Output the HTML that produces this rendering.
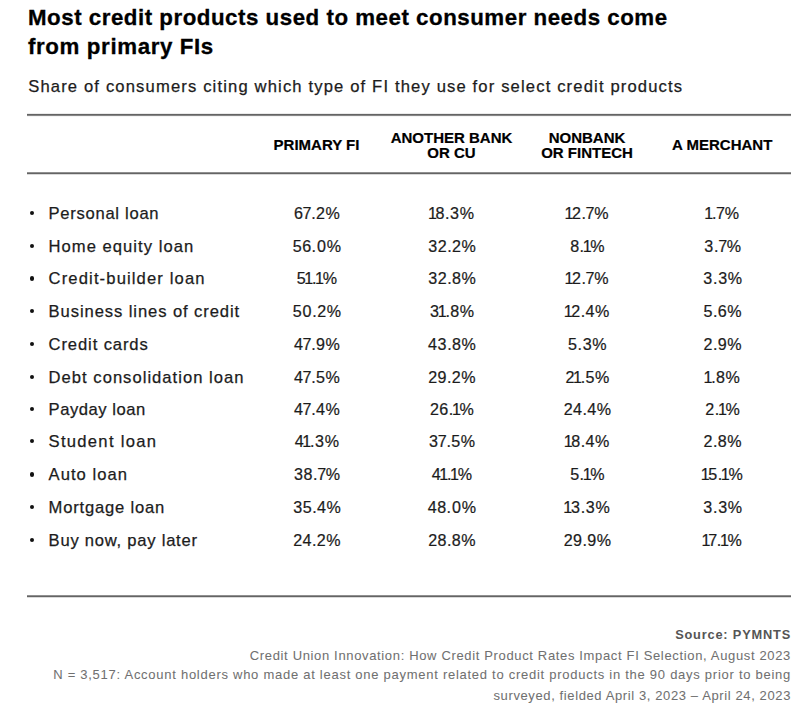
<!DOCTYPE html><html><head><meta charset="utf-8"><style>
html,body{margin:0;padding:0;background:#fff;}
body{width:806px;height:708px;position:relative;overflow:hidden;font-family:"Liberation Sans",sans-serif;}
.a{position:absolute;white-space:nowrap;}
.rule{position:absolute;height:2px;background:#666;}
</style></head><body>
<div class="a" style="left:28.0px;top:3.27px;font-size:22.3px;line-height:30px;font-weight:bold;color:#000;-webkit-text-stroke:0.3px #000;letter-spacing:0.52px">Most credit products used to meet consumer needs come</div>
<div class="a" style="left:28.0px;top:32.07px;font-size:22.3px;line-height:30px;font-weight:bold;color:#000;-webkit-text-stroke:0.3px #000;letter-spacing:0.62px">from primary FIs</div>
<div class="a" style="left:28.2px;top:71.85px;font-size:16.6px;line-height:30px;color:#1c1c1c;-webkit-text-stroke:0.25px #1c1c1c;letter-spacing:1.15px">Share of consumers citing which type of FI they use for select credit products</div>
<div class="a" style="left:27px;top:113px;width:764px;height:4px;background:linear-gradient(to bottom,#ebebeb 0px,#ebebeb 1px,#646464 1px,#646464 2px,#868686 2px,#868686 3px,#f4f4f4 3px,#f4f4f4 4px)"></div>
<div class="a" style="left:27px;top:172px;width:764px;height:3px;background:linear-gradient(to bottom,#909090 0px,#909090 1px,#646464 1px,#646464 2px,#dadada 2px,#dadada 3px)"></div>
<div class="a" style="left:27px;top:595px;width:764px;height:3px;background:linear-gradient(to bottom,#909090 0px,#909090 1px,#646464 1px,#646464 2px,#dadada 2px,#dadada 3px)"></div>
<div class="a" style="left:249.00px;width:135px;top:137.20px;font-size:15.0px;line-height:15.2px;font-weight:bold;color:#000;-webkit-text-stroke:0.2px #000;text-align:center">PRIMARY FI</div>
<div class="a" style="left:384.00px;width:135px;top:129.60px;font-size:15.0px;line-height:15.2px;font-weight:bold;color:#000;-webkit-text-stroke:0.2px #000;text-align:center">ANOTHER BANK<br>OR CU</div>
<div class="a" style="left:519.50px;width:135px;top:129.60px;font-size:15.0px;line-height:15.2px;font-weight:bold;color:#000;-webkit-text-stroke:0.2px #000;text-align:center">NONBANK<br>OR FINTECH</div>
<div class="a" style="left:654.70px;width:135px;top:137.20px;font-size:15.0px;line-height:15.2px;font-weight:bold;color:#000;-webkit-text-stroke:0.2px #000;text-align:center">A MERCHANT</div>
<div class="a" style="left:29.50px;top:211.00px;width:4.2px;height:4.2px;border-radius:50%;background:#111"></div>
<div class="a" style="left:48.6px;top:199.05px;font-size:16.6px;line-height:30px;color:#1c1c1c;-webkit-text-stroke:0.25px #1c1c1c;letter-spacing:0.708px">Personal loan</div>
<div class="a" style="left:249.60px;width:135px;text-align:center;top:198.02px;font-size:16.1px;line-height:30px;color:#1c1c1c;-webkit-text-stroke:0.22px #1c1c1c;letter-spacing:0.45px">6<span style="margin:0 -0.80px">7</span>.2%</div>
<div class="a" style="left:384.60px;width:135px;text-align:center;top:198.02px;font-size:16.1px;line-height:30px;color:#1c1c1c;-webkit-text-stroke:0.22px #1c1c1c;letter-spacing:0.45px"><span style="margin:0 -1.80px">1</span>8.<span style="margin:0 0.25px">3</span>%</div>
<div class="a" style="left:520.10px;width:135px;text-align:center;top:198.02px;font-size:16.1px;line-height:30px;color:#1c1c1c;-webkit-text-stroke:0.22px #1c1c1c;letter-spacing:0.45px"><span style="margin:0 -1.80px">1</span>2.<span style="margin:0 -0.80px">7</span>%</div>
<div class="a" style="left:655.30px;width:135px;text-align:center;top:198.02px;font-size:16.1px;line-height:30px;color:#1c1c1c;-webkit-text-stroke:0.22px #1c1c1c;letter-spacing:0.45px"><span style="margin:0 -1.80px">1</span>.<span style="margin:0 -0.80px">7</span>%</div>
<div class="a" style="left:29.50px;top:243.68px;width:4.2px;height:4.2px;border-radius:50%;background:#111"></div>
<div class="a" style="left:48.6px;top:231.73px;font-size:16.6px;line-height:30px;color:#1c1c1c;-webkit-text-stroke:0.25px #1c1c1c;letter-spacing:1.027px">Home equity loan</div>
<div class="a" style="left:249.60px;width:135px;text-align:center;top:230.70px;font-size:16.1px;line-height:30px;color:#1c1c1c;-webkit-text-stroke:0.22px #1c1c1c;letter-spacing:0.45px">56.<span style="margin:0 0.40px">0</span>%</div>
<div class="a" style="left:384.60px;width:135px;text-align:center;top:230.70px;font-size:16.1px;line-height:30px;color:#1c1c1c;-webkit-text-stroke:0.22px #1c1c1c;letter-spacing:0.45px"><span style="margin:0 0.25px">3</span>2.2%</div>
<div class="a" style="left:520.10px;width:135px;text-align:center;top:230.70px;font-size:16.1px;line-height:30px;color:#1c1c1c;-webkit-text-stroke:0.22px #1c1c1c;letter-spacing:0.45px">8.<span style="margin:0 -1.80px">1</span>%</div>
<div class="a" style="left:655.30px;width:135px;text-align:center;top:230.70px;font-size:16.1px;line-height:30px;color:#1c1c1c;-webkit-text-stroke:0.22px #1c1c1c;letter-spacing:0.45px"><span style="margin:0 0.25px">3</span>.<span style="margin:0 -0.80px">7</span>%</div>
<div class="a" style="left:29.50px;top:276.36px;width:4.2px;height:4.2px;border-radius:50%;background:#111"></div>
<div class="a" style="left:48.6px;top:264.41px;font-size:16.6px;line-height:30px;color:#1c1c1c;-webkit-text-stroke:0.25px #1c1c1c;letter-spacing:1.127px">Credit-builder loan</div>
<div class="a" style="left:249.60px;width:135px;text-align:center;top:263.38px;font-size:16.1px;line-height:30px;color:#1c1c1c;-webkit-text-stroke:0.22px #1c1c1c;letter-spacing:0.45px">5<span style="margin:0 -1.80px">1</span>.<span style="margin:0 -1.80px">1</span>%</div>
<div class="a" style="left:384.60px;width:135px;text-align:center;top:263.38px;font-size:16.1px;line-height:30px;color:#1c1c1c;-webkit-text-stroke:0.22px #1c1c1c;letter-spacing:0.45px"><span style="margin:0 0.25px">3</span>2.8%</div>
<div class="a" style="left:520.10px;width:135px;text-align:center;top:263.38px;font-size:16.1px;line-height:30px;color:#1c1c1c;-webkit-text-stroke:0.22px #1c1c1c;letter-spacing:0.45px"><span style="margin:0 -1.80px">1</span>2.<span style="margin:0 -0.80px">7</span>%</div>
<div class="a" style="left:655.30px;width:135px;text-align:center;top:263.38px;font-size:16.1px;line-height:30px;color:#1c1c1c;-webkit-text-stroke:0.22px #1c1c1c;letter-spacing:0.45px"><span style="margin:0 0.25px">3</span>.<span style="margin:0 0.25px">3</span>%</div>
<div class="a" style="left:29.50px;top:309.04px;width:4.2px;height:4.2px;border-radius:50%;background:#111"></div>
<div class="a" style="left:48.6px;top:297.09px;font-size:16.6px;line-height:30px;color:#1c1c1c;-webkit-text-stroke:0.25px #1c1c1c;letter-spacing:0.909px">Business lines of credit</div>
<div class="a" style="left:249.60px;width:135px;text-align:center;top:296.06px;font-size:16.1px;line-height:30px;color:#1c1c1c;-webkit-text-stroke:0.22px #1c1c1c;letter-spacing:0.45px">5<span style="margin:0 0.40px">0</span>.2%</div>
<div class="a" style="left:384.60px;width:135px;text-align:center;top:296.06px;font-size:16.1px;line-height:30px;color:#1c1c1c;-webkit-text-stroke:0.22px #1c1c1c;letter-spacing:0.45px"><span style="margin:0 0.25px">3</span><span style="margin:0 -1.80px">1</span>.8%</div>
<div class="a" style="left:520.10px;width:135px;text-align:center;top:296.06px;font-size:16.1px;line-height:30px;color:#1c1c1c;-webkit-text-stroke:0.22px #1c1c1c;letter-spacing:0.45px"><span style="margin:0 -1.80px">1</span>2.4%</div>
<div class="a" style="left:655.30px;width:135px;text-align:center;top:296.06px;font-size:16.1px;line-height:30px;color:#1c1c1c;-webkit-text-stroke:0.22px #1c1c1c;letter-spacing:0.45px">5.6%</div>
<div class="a" style="left:29.50px;top:341.72px;width:4.2px;height:4.2px;border-radius:50%;background:#111"></div>
<div class="a" style="left:48.6px;top:329.77px;font-size:16.6px;line-height:30px;color:#1c1c1c;-webkit-text-stroke:0.25px #1c1c1c;letter-spacing:0.882px">Credit cards</div>
<div class="a" style="left:249.60px;width:135px;text-align:center;top:328.74px;font-size:16.1px;line-height:30px;color:#1c1c1c;-webkit-text-stroke:0.22px #1c1c1c;letter-spacing:0.45px">4<span style="margin:0 -0.80px">7</span>.9%</div>
<div class="a" style="left:384.60px;width:135px;text-align:center;top:328.74px;font-size:16.1px;line-height:30px;color:#1c1c1c;-webkit-text-stroke:0.22px #1c1c1c;letter-spacing:0.45px">4<span style="margin:0 0.25px">3</span>.8%</div>
<div class="a" style="left:520.10px;width:135px;text-align:center;top:328.74px;font-size:16.1px;line-height:30px;color:#1c1c1c;-webkit-text-stroke:0.22px #1c1c1c;letter-spacing:0.45px">5.<span style="margin:0 0.25px">3</span>%</div>
<div class="a" style="left:655.30px;width:135px;text-align:center;top:328.74px;font-size:16.1px;line-height:30px;color:#1c1c1c;-webkit-text-stroke:0.22px #1c1c1c;letter-spacing:0.45px">2.9%</div>
<div class="a" style="left:29.50px;top:375.00px;width:4.2px;height:4.2px;border-radius:50%;background:#111"></div>
<div class="a" style="left:48.6px;top:363.05px;font-size:16.6px;line-height:30px;color:#1c1c1c;-webkit-text-stroke:0.25px #1c1c1c;letter-spacing:1.014px">Debt consolidation loan</div>
<div class="a" style="left:249.60px;width:135px;text-align:center;top:362.02px;font-size:16.1px;line-height:30px;color:#1c1c1c;-webkit-text-stroke:0.22px #1c1c1c;letter-spacing:0.45px">4<span style="margin:0 -0.80px">7</span>.5%</div>
<div class="a" style="left:384.60px;width:135px;text-align:center;top:362.02px;font-size:16.1px;line-height:30px;color:#1c1c1c;-webkit-text-stroke:0.22px #1c1c1c;letter-spacing:0.45px">29.2%</div>
<div class="a" style="left:520.10px;width:135px;text-align:center;top:362.02px;font-size:16.1px;line-height:30px;color:#1c1c1c;-webkit-text-stroke:0.22px #1c1c1c;letter-spacing:0.45px">2<span style="margin:0 -1.80px">1</span>.5%</div>
<div class="a" style="left:655.30px;width:135px;text-align:center;top:362.02px;font-size:16.1px;line-height:30px;color:#1c1c1c;-webkit-text-stroke:0.22px #1c1c1c;letter-spacing:0.45px"><span style="margin:0 -1.80px">1</span>.8%</div>
<div class="a" style="left:29.50px;top:407.08px;width:4.2px;height:4.2px;border-radius:50%;background:#111"></div>
<div class="a" style="left:48.6px;top:395.13px;font-size:16.6px;line-height:30px;color:#1c1c1c;-webkit-text-stroke:0.25px #1c1c1c;letter-spacing:0.52px">Payday loan</div>
<div class="a" style="left:249.60px;width:135px;text-align:center;top:394.10px;font-size:16.1px;line-height:30px;color:#1c1c1c;-webkit-text-stroke:0.22px #1c1c1c;letter-spacing:0.45px">4<span style="margin:0 -0.80px">7</span>.4%</div>
<div class="a" style="left:384.60px;width:135px;text-align:center;top:394.10px;font-size:16.1px;line-height:30px;color:#1c1c1c;-webkit-text-stroke:0.22px #1c1c1c;letter-spacing:0.45px">26.<span style="margin:0 -1.80px">1</span>%</div>
<div class="a" style="left:520.10px;width:135px;text-align:center;top:394.10px;font-size:16.1px;line-height:30px;color:#1c1c1c;-webkit-text-stroke:0.22px #1c1c1c;letter-spacing:0.45px">24.4%</div>
<div class="a" style="left:655.30px;width:135px;text-align:center;top:394.10px;font-size:16.1px;line-height:30px;color:#1c1c1c;-webkit-text-stroke:0.22px #1c1c1c;letter-spacing:0.45px">2.<span style="margin:0 -1.80px">1</span>%</div>
<div class="a" style="left:29.50px;top:438.76px;width:4.2px;height:4.2px;border-radius:50%;background:#111"></div>
<div class="a" style="left:48.6px;top:426.81px;font-size:16.6px;line-height:30px;color:#1c1c1c;-webkit-text-stroke:0.25px #1c1c1c;letter-spacing:1.282px">Student loan</div>
<div class="a" style="left:249.60px;width:135px;text-align:center;top:425.78px;font-size:16.1px;line-height:30px;color:#1c1c1c;-webkit-text-stroke:0.22px #1c1c1c;letter-spacing:0.45px">4<span style="margin:0 -1.80px">1</span>.<span style="margin:0 0.25px">3</span>%</div>
<div class="a" style="left:384.60px;width:135px;text-align:center;top:425.78px;font-size:16.1px;line-height:30px;color:#1c1c1c;-webkit-text-stroke:0.22px #1c1c1c;letter-spacing:0.45px"><span style="margin:0 0.25px">3</span><span style="margin:0 -0.80px">7</span>.5%</div>
<div class="a" style="left:520.10px;width:135px;text-align:center;top:425.78px;font-size:16.1px;line-height:30px;color:#1c1c1c;-webkit-text-stroke:0.22px #1c1c1c;letter-spacing:0.45px"><span style="margin:0 -1.80px">1</span>8.4%</div>
<div class="a" style="left:655.30px;width:135px;text-align:center;top:425.78px;font-size:16.1px;line-height:30px;color:#1c1c1c;-webkit-text-stroke:0.22px #1c1c1c;letter-spacing:0.45px">2.8%</div>
<div class="a" style="left:29.50px;top:472.44px;width:4.2px;height:4.2px;border-radius:50%;background:#111"></div>
<div class="a" style="left:48.6px;top:460.49px;font-size:16.6px;line-height:30px;color:#1c1c1c;-webkit-text-stroke:0.25px #1c1c1c;letter-spacing:1.039px">Auto loan</div>
<div class="a" style="left:249.60px;width:135px;text-align:center;top:459.46px;font-size:16.1px;line-height:30px;color:#1c1c1c;-webkit-text-stroke:0.22px #1c1c1c;letter-spacing:0.45px"><span style="margin:0 0.25px">3</span>8.<span style="margin:0 -0.80px">7</span>%</div>
<div class="a" style="left:384.60px;width:135px;text-align:center;top:459.46px;font-size:16.1px;line-height:30px;color:#1c1c1c;-webkit-text-stroke:0.22px #1c1c1c;letter-spacing:0.45px">4<span style="margin:0 -1.80px">1</span>.<span style="margin:0 -1.80px">1</span>%</div>
<div class="a" style="left:520.10px;width:135px;text-align:center;top:459.46px;font-size:16.1px;line-height:30px;color:#1c1c1c;-webkit-text-stroke:0.22px #1c1c1c;letter-spacing:0.45px">5.<span style="margin:0 -1.80px">1</span>%</div>
<div class="a" style="left:655.30px;width:135px;text-align:center;top:459.46px;font-size:16.1px;line-height:30px;color:#1c1c1c;-webkit-text-stroke:0.22px #1c1c1c;letter-spacing:0.45px"><span style="margin:0 -1.80px">1</span>5.<span style="margin:0 -1.80px">1</span>%</div>
<div class="a" style="left:29.50px;top:505.12px;width:4.2px;height:4.2px;border-radius:50%;background:#111"></div>
<div class="a" style="left:48.6px;top:493.17px;font-size:16.6px;line-height:30px;color:#1c1c1c;-webkit-text-stroke:0.25px #1c1c1c;letter-spacing:0.792px">Mortgage loan</div>
<div class="a" style="left:249.60px;width:135px;text-align:center;top:492.14px;font-size:16.1px;line-height:30px;color:#1c1c1c;-webkit-text-stroke:0.22px #1c1c1c;letter-spacing:0.45px"><span style="margin:0 0.25px">3</span>5.4%</div>
<div class="a" style="left:384.60px;width:135px;text-align:center;top:492.14px;font-size:16.1px;line-height:30px;color:#1c1c1c;-webkit-text-stroke:0.22px #1c1c1c;letter-spacing:0.45px">48.<span style="margin:0 0.40px">0</span>%</div>
<div class="a" style="left:520.10px;width:135px;text-align:center;top:492.14px;font-size:16.1px;line-height:30px;color:#1c1c1c;-webkit-text-stroke:0.22px #1c1c1c;letter-spacing:0.45px"><span style="margin:0 -1.80px">1</span><span style="margin:0 0.25px">3</span>.<span style="margin:0 0.25px">3</span>%</div>
<div class="a" style="left:655.30px;width:135px;text-align:center;top:492.14px;font-size:16.1px;line-height:30px;color:#1c1c1c;-webkit-text-stroke:0.22px #1c1c1c;letter-spacing:0.45px"><span style="margin:0 0.25px">3</span>.<span style="margin:0 0.25px">3</span>%</div>
<div class="a" style="left:29.50px;top:537.80px;width:4.2px;height:4.2px;border-radius:50%;background:#111"></div>
<div class="a" style="left:48.6px;top:525.85px;font-size:16.6px;line-height:30px;color:#1c1c1c;-webkit-text-stroke:0.25px #1c1c1c;letter-spacing:0.753px">Buy now, pay later</div>
<div class="a" style="left:249.60px;width:135px;text-align:center;top:524.82px;font-size:16.1px;line-height:30px;color:#1c1c1c;-webkit-text-stroke:0.22px #1c1c1c;letter-spacing:0.45px">24.2%</div>
<div class="a" style="left:384.60px;width:135px;text-align:center;top:524.82px;font-size:16.1px;line-height:30px;color:#1c1c1c;-webkit-text-stroke:0.22px #1c1c1c;letter-spacing:0.45px">28.8%</div>
<div class="a" style="left:520.10px;width:135px;text-align:center;top:524.82px;font-size:16.1px;line-height:30px;color:#1c1c1c;-webkit-text-stroke:0.22px #1c1c1c;letter-spacing:0.45px">29.9%</div>
<div class="a" style="left:655.30px;width:135px;text-align:center;top:524.82px;font-size:16.1px;line-height:30px;color:#1c1c1c;-webkit-text-stroke:0.22px #1c1c1c;letter-spacing:0.45px"><span style="margin:0 -1.80px">1</span><span style="margin:0 -0.80px">7</span>.<span style="margin:0 -1.80px">1</span>%</div>
<div class="a" style="right:15px;top:624.86px;font-size:12.8px;line-height:20px;font-weight:bold;color:#555;letter-spacing:0.81px">Source: PYMNTS</div>
<div class="a" style="right:15px;top:645.50px;font-size:13.0px;line-height:20px;color:#707070;-webkit-text-stroke:0.05px #707070;letter-spacing:0.652px">Credit Union Innovation: How Credit Product Rates Impact FI Selection, August 2023</div>
<div class="a" style="right:15px;top:664.70px;font-size:13.0px;line-height:20px;color:#707070;-webkit-text-stroke:0.05px #707070;letter-spacing:0.732px">N = 3,517: Account holders who made at least one payment related to credit products in the 90 days prior to being</div>
<div class="a" style="right:15px;top:685.80px;font-size:13.0px;line-height:20px;color:#707070;-webkit-text-stroke:0.05px #707070;letter-spacing:0.612px">surveyed, fielded April 3, 2023 – April 24, 2023</div>
</body></html>
